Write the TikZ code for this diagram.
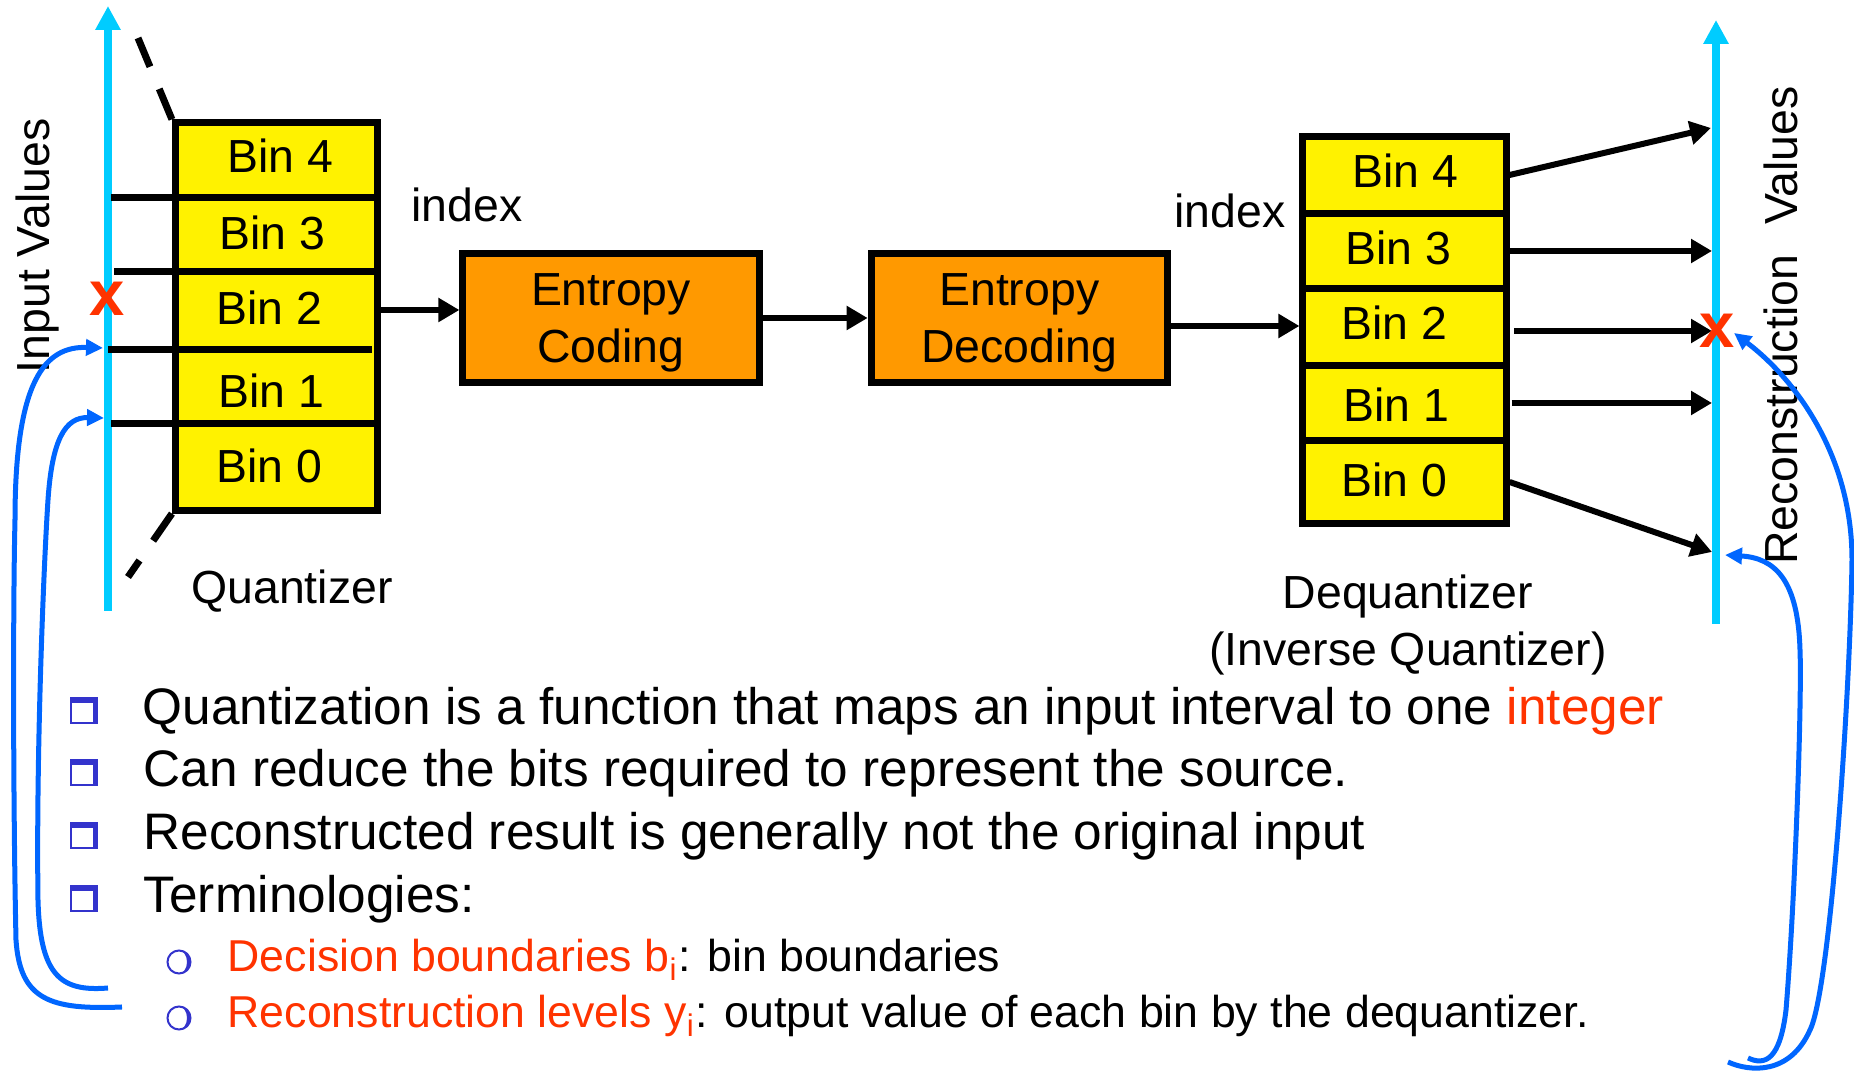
\documentclass[tikz,border=0pt]{standalone}
\usepackage{fontspec}
\setmainfont{Liberation Sans}
\usepackage{xcolor}
\usetikzlibrary{positioning, arrows.meta}
\definecolor{axiscyan}{RGB}{0,204,255}
\definecolor{curveblue}{RGB}{0,102,255}
\definecolor{markred}{RGB}{255,51,0}
\definecolor{codeorange}{RGB}{255,153,0}
\definecolor{bulletblue}{RGB}{51,51,204}
\newcommand{\labelfont}{\fontsize{13.2}{16.2}\selectfont}
\newcommand{\bulletfont}{\fontsize{14.6}{17}\selectfont}
\newcommand{\subfont}{\fontsize{12.7}{15}\selectfont}
\newcommand{\xmarkfont}{\fontsize{18}{20}\selectfont\bfseries}
\newcommand{\topline}{\rule{0pt}{0.42cm}}
\tikzset{
    binbox/.style={rectangle, draw=black, line width=0.07cm, fill=yellow, inner sep=0pt},
    codebox/.style={rectangle, draw=black, line width=0.07cm, fill=codeorange, align=center, minimum width=2.96cm, minimum height=1.28cm, inner sep=0pt, font=\labelfont},
    binlabel/.style={anchor=base, inner sep=0pt, font=\labelfont},
    txt/.style={anchor=base, inner sep=0pt, font=\labelfont},
    divider/.style={line width=0.07cm},
    dashedge/.style={line width=0.07cm, dash pattern=on 0.33cm off 0.24cm},
    arrow/.style={-{Triangle[length=0.21cm, width=0.23cm]}, line width=0.06cm},
    valueaxis/.style={-{Triangle[length=0.24cm, width=0.24cm]}, axiscyan, line width=0.08cm},
    pointer/.style={-{Triangle[length=0.17cm, width=0.16cm]}, curveblue, line width=0.05cm},
    xmark/.style={markred, inner sep=0pt, font=\xmarkfont},
    bullettxt/.style={anchor=base west, inner sep=0pt, font=\bulletfont},
    subtxt/.style={anchor=base west, inner sep=0pt, font=\subfont}
}

\begin{document}
\begin{tikzpicture}[x=0.01cm, y=-0.01cm]
    \useasboundingbox (0,0) rectangle (1854,1074);

    % Input axis
    \coordinate (qlo) at (108,611);
    \coordinate (qhi) at (108,6);
    \draw[valueaxis] (qlo) -- (qhi);
    \node[txt, rotate=90] (inlbl) at (50,246) {Input Values};

    % Quantizer
    \node[binbox, minimum width=2.02cm, minimum height=3.87cm] (quant) at (276.5,316.5) {};
    \foreach \y/\xl/\xr in {198/111/377.5, 272/114/377.5, 350/108/372, 424/111/377.5}
        \draw[divider] (\xl,\y) -- (\xr,\y);
    \foreach \n/\x/\y in {4/280/173, 3/272.5/250, 2/269/325, 1/271/408, 0/269/483}
        \node[binlabel] (qb\n) at (\x,\y) {Bin \n};
    \coordinate (dashtop) at (138,38);
    \coordinate (dashbot) at (128,577);
    \draw[dashedge] (quant.north west) -- (dashtop);
    \draw[dashedge] (quant.south west) -- (dashbot);
    \node[txt] (qlbl) at (292,604) {Quantizer};
    \node[xmark] (xin) at (107,299) {x};

    % Entropy coding
    \node[codebox] (cod) at (611,318) {\topline Entropy\\Coding};
    \node[codebox, right=1.05cm of cod] (dec) {\topline Entropy\\Decoding};
    \node[txt] (idxq) at (467,222) {index};
    \node[txt] (idxd) at (1230,228) {index};

    % Dequantizer
    \node[binbox, minimum width=2.03cm, minimum height=3.86cm] (deq) at (1404.5,330) {};
    \foreach \y in {214,289,366,441}
        \draw[divider] (deq.west |- 0,\y) -- (deq.east |- 0,\y);
    \foreach \n/\x/\y in {4/1405/188, 3/1398/265, 2/1394/340, 1/1396/422, 0/1394/497}
        \node[binlabel] (db\n) at (\x,\y) {Bin \n};
    \node[txt, anchor=center, align=center] (dlbl) at (1408,625) {Dequantizer\\(Inverse Quantizer)};

    % Output axis
    \coordinate (dlo) at (1716,624);
    \coordinate (dhi) at (1716,20);
    \draw[valueaxis] (dlo) -- (dhi);
    \node[txt, rotate=90] (outlbl) at (1797,325.5) {Reconstruction\hspace{0.3cm}Values};

    % Arrows
    \draw[arrow] (quant.east |- 0,310) -- (cod.west |- 0,310);
    \draw[arrow] (cod) -- (dec);
    \draw[arrow] (dec.east |- 0,326) -- (deq.west |- 0,326);
    \coordinate (r4) at (1711,128);
    \coordinate (r3) at (1712,251);
    \coordinate (r2) at (1712,331);
    \coordinate (r1) at (1712,403);
    \coordinate (r0) at (1712,552);
    \draw[arrow] (deq.east |- 0,175) -- (r4);
    \draw[arrow] (deq.east |- 0,251) -- (r3);
    \draw[arrow, shorten <=0.045cm] (deq.east |- 0,331) -- (r2);
    \draw[arrow, shorten <=0.02cm] (deq.east |- 0,403) -- (r1);
    \draw[arrow] (deq.east |- 0,482) -- (r0);
    \node[xmark] (xout) at (1717,331) {x};

    % Bullets
    \foreach \b in {725,787,850,913} {
        \fill[bulletblue] (70,\b-28) rectangle (98,\b-1);
        \fill[white] (72,\b-22) rectangle (93,\b-3);
    }
    \foreach \b in {962,1018} {
        \draw[bulletblue, line width=0.02cm] (179,\b) circle (0.115cm);
        \fill[bulletblue] (179,\b-11.5) arc (90:-90:0.115cm) arc (-90:90:0.08cm and 0.115cm);
    }
    \node[bullettxt] (t1) at (142,725) {Quantization is a function that maps an input interval to one \textcolor{markred}{integer}};
    \node[bullettxt] (t2) at (143,787) {Can reduce the bits required to represent the source.};
    \node[bullettxt] (t3) at (143,850) {Reconstructed result is generally not the original input};
    \node[bullettxt] (t4) at (143,913) {Terminologies:};
    \node[subtxt] (s1) at (227,972) {\textcolor{markred}{Decision boundaries b\textsubscript{i}}: bin boundaries};
    \node[subtxt] (s2) at (227,1028) {\textcolor{markred}{Reconstruction levels y\textsubscript{i}}: output value of each bin by the dequantizer.};

    % Pointers
    \coordinate (lbA) at (103,348);
    \coordinate (lbB) at (104,418);
    \coordinate (ltA) at (122,1007);
    \coordinate (ltB) at (108,988);
    \draw[pointer] (ltA) .. controls (50,1010) and (20,1000) .. (16,940)
        .. controls (13,800) and (13,600) .. (15,520)
        .. controls (15,380) and (45,346) .. (lbA);
    \draw[pointer] (ltB) .. controls (60,992) and (40,975) .. (38,900)
        .. controls (36,750) and (44,560) .. (48,500)
        .. controls (52,440) and (65,417) .. (lbB);
    \coordinate (rbA) at (1734,333);
    \coordinate (rbB) at (1725,555);
    \coordinate (rtA) at (1728,1062);
    \coordinate (rtB) at (1748,1058);
    \draw[pointer] (rtA) .. controls (1750,1072) and (1790,1075) .. (1810,1030)
        .. controls (1830,990) and (1850,700) .. (1852,560)
        .. controls (1852,450) and (1790,375) .. (rbA);
    \draw[pointer] (rtB) .. controls (1765,1066) and (1780,1060) .. (1786,1010)
        .. controls (1795,900) and (1802,700) .. (1800,650)
        .. controls (1798,580) and (1775,558) .. (rbB);
\end{tikzpicture}
\end{document}
